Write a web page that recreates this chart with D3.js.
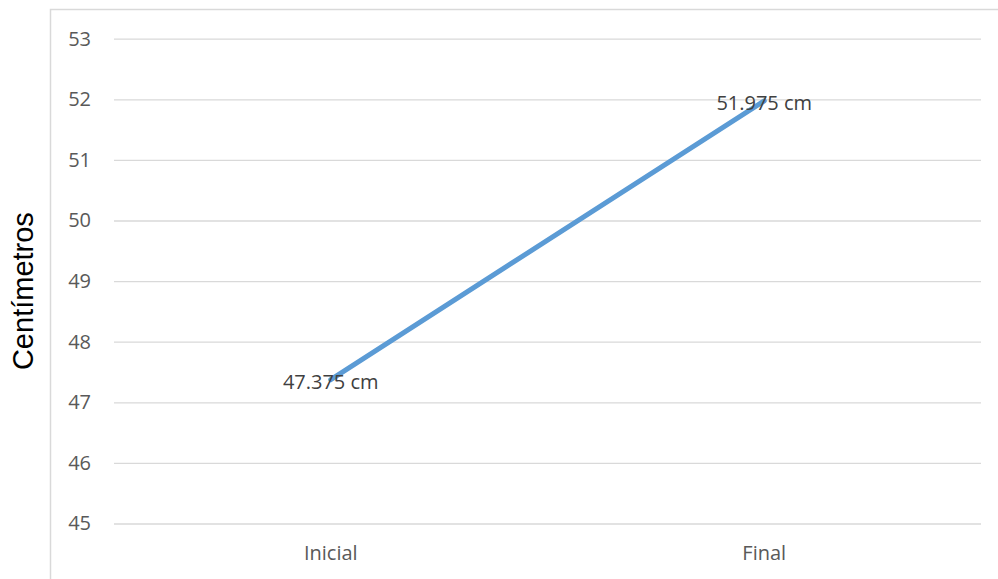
<!DOCTYPE html>
<html>
<head>
<meta charset="utf-8">
<script src="https://cdn.jsdelivr.net/npm/d3@7"></script>
<style>
  html, body { margin: 0; padding: 0; background: #fff; }
  svg { display: block; }
</style>
</head>
<body>
<svg id="chart" width="998" height="579"></svg>
<script>
// Measurement stages and average length (cm)
const categories = ["Inicial", "Final"];
const values = [47.375, 51.975];
const yTicks = [45, 46, 47, 48, 49, 50, 51, 52, 53];
const yTitle = "Centímetros";
const unit = " cm";

const W = 998, H = 579;
const plot = { left: 114, right: 981, top: 38.7, bottom: 523.5 };

const svg = d3.select("#chart");

// Outer chart frame (left and top edges visible)
svg.append("path")
  .attr("d", `M50.5,${H} L50.5,9.5 L${W},9.5`)
  .attr("fill", "none")
  .attr("stroke", "#d9d9d9")
  .attr("stroke-width", 1.5);

const x = d3.scaleBand().domain(categories).range([plot.left, plot.right]);
const y = d3.scaleLinear().domain([45, 53]).range([plot.bottom, plot.top]);

// Horizontal gridlines + value labels
const yAxis = d3.axisLeft(y).tickValues(yTicks).tickSize(-(plot.right - plot.left)).tickPadding(23).tickFormat(d3.format("d"));
const gy = svg.append("g").attr("transform", `translate(${plot.left},0)`).call(yAxis);
gy.select(".domain").remove();
gy.selectAll(".tick line").attr("stroke", "#d9d9d9").attr("stroke-width", 1.3);
gy.selectAll(".tick text")
  .attr("fill", "#595959")
  .style("font-family", "'Open Sans', sans-serif")
  .style("font-size", "20px");

// Category labels
const xAxis = d3.axisBottom(x).tickSize(0).tickPadding(22);
const gx = svg.append("g").attr("transform", `translate(0,${plot.bottom})`).call(xAxis);
gx.select(".domain").remove();
gx.selectAll(".tick text")
  .attr("fill", "#595959")
  .style("font-family", "'Open Sans', sans-serif")
  .style("font-size", "20px");

// Axis title
svg.append("text")
  .attr("transform", `translate(33,${(plot.top + plot.bottom) / 2 + 10}) rotate(-90)`)
  .attr("text-anchor", "middle")
  .attr("fill", "#000")
  .style("font-family", "'Liberation Sans', Arial, sans-serif")
  .style("font-size", "29px")
  .text(yTitle);

// Series line
const pts = categories.map((c, i) => ({ c, v: values[i] }));
const line = d3.line().x(d => x(d.c) + x.bandwidth() / 2).y(d => y(d.v));
svg.append("path")
  .datum(pts)
  .attr("d", line)
  .attr("fill", "none")
  .attr("stroke", "#5b9bd5")
  .attr("stroke-width", 5)
  .attr("stroke-linecap", "round");

// Data labels centred on points
svg.selectAll(".lbl")
  .data(pts)
  .enter().append("text")
  .attr("class", "lbl")
  .attr("x", d => x(d.c) + x.bandwidth() / 2)
  .attr("y", d => y(d.v) + 2)
  .attr("text-anchor", "middle")
  .attr("dominant-baseline", "central")
  .attr("fill", "#404040")
  .style("font-family", "'Open Sans', sans-serif")
  .style("font-size", "20px")
  .text(d => d3.format(".3f")(d.v) + unit);
</script>
</body>
</html>
